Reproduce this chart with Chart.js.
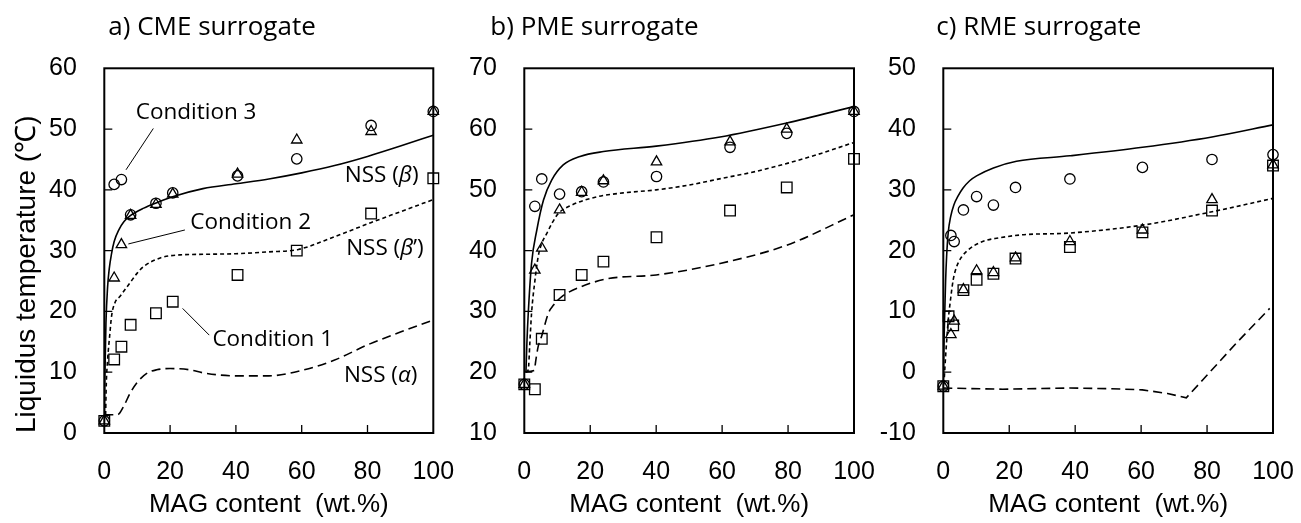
<!DOCTYPE html>
<html>
<head>
<meta charset="utf-8">
<script src="https://cdn.jsdelivr.net/npm/chart.js@4"></script>
<style>
  html, body { margin: 0; padding: 0; background: #fff; }
  #wrap { position: relative; width: 1301px; height: 523px; overflow: hidden; }
  canvas { position: absolute; top: 0; }
</style>
</head>
<body>
<div id="wrap">
  <canvas id="chartA" width="470" height="523" style="left:0px"></canvas>
  <canvas id="chartB" width="450" height="523" style="left:445px"></canvas>
  <canvas id="chartC" width="426" height="523" style="left:875px"></canvas>
</div>
<script>
// === Data ===

// a) CME surrogate
const magA   = [0, 3.0, 5.2, 8.0, 15.7, 20.8, 40.5, 58.5, 81.1, 100];
const cond3A = [2.0, 40.9, 41.7, 35.9, 37.8, 39.5, 42.3, 45.1, 50.6, 52.9];
const cond2A = [2.0, 25.5, 31.0, 35.8, 37.6, 39.3, 42.6, 48.2, 49.6, 52.9];
const cond1A = [2.0, 12.1, 14.2, 17.8, 19.7, 21.6, 26.0, 30.0, 36.1, 41.9];
const betaA_x  = [0, 0.2, 0.5, 1, 1.5, 2.2, 3, 4.5, 6, 8, 12, 16, 21, 30, 40, 50, 60, 70, 80, 90, 100];
const betaA_y  = [2, 10, 18, 24, 27, 29.5, 31.5, 33.5, 34.8, 35.8, 37, 37.9, 38.9, 40.2, 41, 41.8, 42.8, 44, 45.5, 47.2, 49];
const betaPA_x = [0.4, 0.6, 1, 1.7, 2.2, 3.2, 4.8, 6.3, 7.8, 10, 12, 17, 23, 30, 40, 50, 59, 70, 81, 90, 100];
const betaPA_y = [3, 8, 12, 16.4, 19.2, 21.4, 22.5, 23.6, 24.7, 26.3, 27.4, 28.8, 29.3, 29.4, 29.5, 29.8, 30.2, 32.3, 34.6, 36.4, 38.4];
const alphaA_x = [0, 4, 5.8, 7.8, 9.8, 12.9, 15.9, 20, 26, 30, 40, 50, 60, 70, 80, 90, 100];
const alphaA_y = [3, 3, 4.3, 6.5, 8.2, 9.8, 10.4, 10.6, 10.4, 9.9, 9.4, 9.4, 10.3, 12, 14.5, 16.6, 18.6];

// b) PME surrogate
const magB   = [0, 3.2, 5.3, 10.7, 17.4, 24.0, 40.1, 62.4, 79.6, 100];
const cond3B = [18.0, 47.3, 51.8, 49.3, 49.7, 51.3, 52.2, 57.0, 59.3, 62.9];
const cond2B = [18.0, 36.8, 40.4, 46.7, 49.6, 51.5, 54.6, 57.9, 60.0, 62.9];
const cond1B = [18.0, 17.2, 25.5, 32.7, 36.0, 38.2, 42.2, 46.6, 50.4, 55.1];
const betaB_x  = [0.5, 0.8, 1.2, 2.2, 3.8, 5.8, 8.3, 11.8, 16.9, 24, 40, 59.4, 79.6, 100];
const betaB_y  = [20, 25, 29.7, 37.9, 43.4, 48.3, 51.6, 54.1, 55.5, 56.3, 57.2, 58.7, 61, 63.7];
const betaPB_x = [0.5, 1.2, 1.7, 2.2, 3.2, 4.2, 5.3, 6.8, 8.5, 10.3, 14.4, 22.4, 30, 40, 50, 60, 70, 80, 90, 100];
const betaPB_y = [20, 20.4, 25, 29.7, 35, 39, 41.2, 42.8, 44.6, 46.1, 47.5, 48.9, 49.5, 50, 50.8, 51.9, 53, 54.4, 56, 57.8];
const alphaB_x = [0.3, 3, 3.5, 4.2, 5.3, 7.3, 8.8, 11.3, 17.4, 25.5, 40, 59.4, 79.6, 100];
const alphaB_y = [20.1, 20.3, 22, 24.2, 26, 29.7, 31, 32.4, 34.1, 35.4, 36, 37.9, 40.9, 45.9];

// c) RME surrogate
const magC    = [0, 2.3, 3.3, 6.1, 10.1, 15.2, 21.9, 38.4, 60.4, 81.5, 100];
const magC_sq = [0, 1.6, 3.0, 6.1, 10.1, 15.2, 21.9, 38.4, 60.4, 81.5, 100];
const cond3C = [-2.3, 22.5, 21.5, 26.7, 28.9, 27.5, 30.4, 31.8, 33.7, 35.0, 35.8];
const cond2C = [-2.3, 6.2, 8.4, 13.6, 16.7, 16.4, 18.8, 21.5, 23.4, 28.4, 34.1];
const cond1C = [-2.3, 9.2, 7.7, 13.5, 15.2, 16.2, 18.7, 20.6, 23.0, 26.6, 34.0];
const betaC_x  = [0, 0.3, 0.7, 1, 1.5, 2.2, 3.2, 4.5, 6, 8, 10.1, 15.2, 22.2, 38.4, 60.4, 81.5, 100];
const betaC_y  = [-2.3, 7, 15, 19, 23, 25.5, 27.5, 29, 30.3, 31.5, 32.3, 33.6, 34.7, 35.6, 37, 38.7, 40.7];
const betaPC_x = [0.2, 0.5, 1, 1.5, 2.2, 3, 4, 5.6, 7.5, 9.6, 13, 15.7, 23.8, 38.4, 60.4, 81.5, 100];
const betaPC_y = [-2, 0.9, 5, 8.6, 12, 15.2, 17.3, 19, 20.1, 20.9, 21.7, 22, 22.6, 22.9, 24.2, 26.4, 28.6];
const alphaC_x = [0, 18, 38.4, 50, 60.4, 68, 73.7, 78.8, 88.9, 99];
const alphaC_y = [-2.6, -2.8, -2.6, -2.7, -2.9, -3.5, -4.2, -1.2, 4.8, 10.5];

// axis ranges
const yRangeA = [0, 60];
const yRangeB = [10, 70];
const yRangeC = [-10, 50];

// text labels inside panel a), in data units
const notesA = [
  { parts: [['Condition 3', false]], x: 27.9, y: 52.7 },
  { parts: [['Condition 2', false]], x: 44.5, y: 34.6 },
  { parts: [['Condition 1', false]], x: 51.2, y: 15.4 },
  { parts: [['NSS (', false], ['\u03B2', true], [')', false]], x: 84.3, y: 42.4 },
  { parts: [['NSS (', false], ['\u03B2', true], ['\u2019)', false]], x: 85.3, y: 30.3 },
  { parts: [['NSS (', false], ['\u03B1', true], [')', false]], x: 84.0, y: 9.5 }
];
const leadersA = [
  [14.9, 50.1, 6.6, 43.3],
  [24.5, 33.4, 7.3, 31.1],
  [23.8, 20.5, 31.9, 16.1]
];

// === Helpers ===
const TICK_FONT = { family: '"Liberation Sans", Arial, sans-serif', size: 25 };
const pts = (xs, ys) => xs.map((x, i) => ({ x, y: ys[i] }));

function markers(xs, ys, style, r) {
  return {
    data: pts(xs, ys), pointStyle: style, pointRadius: r, pointHoverRadius: r,
    backgroundColor: 'rgba(0,0,0,0)', borderColor: '#000', borderWidth: 1.3,
    showLine: false, clip: false
  };
}

function curve(xs, ys, dash, mono = true) {
  return {
    data: pts(xs, ys), showLine: true, pointRadius: 0, borderColor: '#000',
    borderWidth: 1.6, borderDash: dash, fill: false,
    cubicInterpolationMode: mono ? 'monotone' : 'default', tension: 0
  };
}

// frame, inward ticks, title and notes
const decor = {
  id: 'decor',
  afterDatasetsDraw(chart, args, opts) {
    const { ctx, chartArea: a, scales: { x, y } } = chart;
    ctx.save();
    ctx.strokeStyle = '#000';
    ctx.lineWidth = 1.3;
    ctx.beginPath();
    x.ticks.forEach(t => {
      if (t.value <= x.min || t.value >= x.max) return;
      const px = x.getPixelForValue(t.value);
      ctx.moveTo(px, a.bottom); ctx.lineTo(px, a.bottom - 8);
    });
    y.ticks.forEach(t => {
      if (t.value <= y.min || t.value >= y.max) return;
      const py = y.getPixelForValue(t.value);
      ctx.moveTo(a.left, py); ctx.lineTo(a.left + 8, py);
    });
    ctx.stroke();
    ctx.lineWidth = 2;
    ctx.strokeRect(a.left, a.top, a.right - a.left, a.bottom - a.top);

    ctx.fillStyle = '#000';
    ctx.textAlign = 'left';
    ctx.textBaseline = 'alphabetic';
    ctx.font = '26px "Open Sans"';
    ctx.fillText(opts.title, a.left + opts.titleDx, 35);

    ctx.textBaseline = 'middle';
    (opts.notes || []).forEach(n => {
      const fonts = n.parts.map(p => (p[1] ? 'italic ' : '') + '22.5px "Open Sans"');
      let w = 0;
      n.parts.forEach((p, i) => { ctx.font = fonts[i]; w += ctx.measureText(p[0]).width; });
      let cx = x.getPixelForValue(n.x) - w / 2;
      const cy = y.getPixelForValue(n.y);
      n.parts.forEach((p, i) => {
        ctx.font = fonts[i];
        ctx.fillText(p[0], cx, cy);
        cx += ctx.measureText(p[0]).width;
      });
    });
    ctx.restore();
  }
};

function makePanel(id, o) {
  const datasets = [
    curve(o.beta[0], o.beta[1], []),
    curve(o.betaP[0], o.betaP[1], [4, 3]),
    curve(o.alpha[0], o.alpha[1], [9, 5], o.alphaMono),
    markers(o.mag, o.c3, 'circle', 5.2),
    markers(o.mag, o.c2, 'triangle', 6),
    markers(o.magSq || o.mag, o.c1, 'rect', 7.5)
  ];
  (o.leaders || []).forEach(l => {
    datasets.push({
      data: [{ x: l[0], y: l[1] }, { x: l[2], y: l[3] }], showLine: true,
      pointRadius: 0, borderColor: '#000', borderWidth: 1
    });
  });

  return new Chart(document.getElementById(id), {
    type: 'scatter',
    data: { datasets },
    options: {
      responsive: false,
      animation: false,
      events: [],
      layout: { padding: { top: 68.3, right: o.padRight, bottom: 0, left: 0 } },
      plugins: {
        legend: { display: false },
        tooltip: { enabled: false },
        decor: { title: o.title, titleDx: o.titleDx, notes: o.notes }
      },
      scales: {
        x: {
          type: 'linear', min: 0, max: 100,
          ticks: { stepSize: 20, padding: 24, color: '#000', font: TICK_FONT },
          grid: { display: false, drawTicks: false },
          border: { display: false },
          title: {
            display: true, text: 'MAG content  (wt.%)', color: '#000',
            font: { family: '"Liberation Sans", Arial, sans-serif', size: 26 },
            padding: { top: 0, bottom: 3 }
          },
          afterFit: s => { s.height = 90; s.paddingLeft = 0; s.paddingRight = 0; }
        },
        y: {
          type: 'linear', min: o.yRange[0], max: o.yRange[1],
          ticks: { stepSize: 10, padding: 27.5, color: '#000', font: TICK_FONT },
          grid: { display: false, drawTicks: false },
          border: { display: false },
          title: {
            display: !!o.yTitle, text: o.yTitle || '', align: 'start', color: '#000',
            font: { family: '"Liberation Sans", Arial, sans-serif', size: 28 },
            padding: { top: 10, bottom: 0 }
          },
          afterFit: s => { s.width = o.yWidth; s.paddingTop = 0; s.paddingBottom = 0; }
        }
      }
    },
    plugins: [decor]
  });
}

makePanel('chartA', {
  title: 'a) CME surrogate', titleDx: 4, yTitle: 'Liquidus temperature (\u2103)',
  yRange: yRangeA, yWidth: 104.3, padRight: 36.7,
  mag: magA, c3: cond3A, c2: cond2A, c1: cond1A,
  beta: [betaA_x, betaA_y], betaP: [betaPA_x, betaPA_y], alpha: [alphaA_x, alphaA_y],
  alphaMono: true, notes: notesA, leaders: leadersA
});

makePanel('chartB', {
  title: 'b) PME surrogate', titleDx: -34,
  yRange: yRangeB, yWidth: 79.3, padRight: 41,
  mag: magB, c3: cond3B, c2: cond2B, c1: cond1B,
  beta: [betaB_x, betaB_y], betaP: [betaPB_x, betaPB_y], alpha: [alphaB_x, alphaB_y],
  alphaMono: true
});

makePanel('chartC', {
  title: 'c) RME surrogate', titleDx: -7,
  yRange: yRangeC, yWidth: 68.3, padRight: 28,
  mag: magC, magSq: magC_sq, c3: cond3C, c2: cond2C, c1: cond1C,
  beta: [betaC_x, betaC_y], betaP: [betaPC_x, betaPC_y], alpha: [alphaC_x, alphaC_y],
  alphaMono: false
});
</script>
</body>
</html>
